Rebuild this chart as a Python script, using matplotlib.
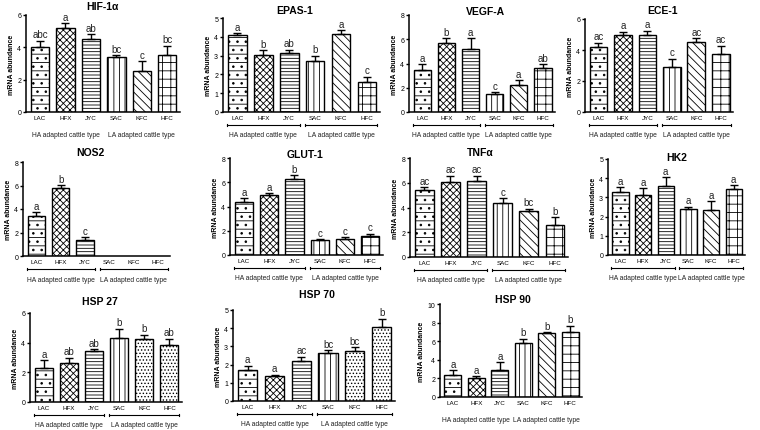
import matplotlib
matplotlib.use("Agg")
import matplotlib.pyplot as plt
import matplotlib.transforms as mtransforms
import numpy as np

plt.rcParams['font.family'] = ['Liberation Sans', 'DejaVu Sans']
plt.rcParams['hatch.linewidth'] = 0.6

cats = ['LAC', 'HFX', 'JYC', 'SAC', 'KFC', 'HFC']
groups = ['HA adapted cattle type', 'LA adapted cattle type']

genes = ['HIF-1α', 'EPAS-1', 'VEGF-A', 'ECE-1', 'NOS2', 'GLUT-1',
         'TNFα', 'HK2', 'HSP 27', 'HSP 70', 'HSP 90']

hif_mean = [4.0, 5.22, 4.5, 3.38, 2.56, 3.55]
hif_err = [0.4, 0.27, 0.3, 0.14, 0.57, 0.55]
hif_sig = ['abc', 'a', 'ab', 'bc', 'c', 'bc']

epas_mean = [4.1, 3.05, 3.14, 2.73, 4.14, 1.6]
epas_err = [0.1, 0.25, 0.18, 0.27, 0.21, 0.28]
epas_sig = ['a', 'b', 'ab', 'b', 'a', 'c']

vegf_mean = [3.47, 5.66, 5.19, 1.45, 2.24, 3.6]
vegf_err = [0.46, 0.41, 0.88, 0.19, 0.38, 0.33]
vegf_sig = ['a', 'b', 'a', 'c', 'a', 'ab']

ece_mean = [4.18, 5.0, 4.97, 2.93, 4.5, 3.75]
ece_err = [0.28, 0.17, 0.28, 0.5, 0.26, 0.53]
ece_sig = ['ac', 'a', 'a', 'c', 'ac', 'ac']

nos_mean = [3.44, 5.75, 1.38, 0, 0, 0]
nos_err = [0.28, 0.28, 0.22, 0, 0, 0]
nos_sig = ['a', 'b', 'c', '', '', '']

glut_mean = [4.33, 4.97, 6.26, 1.24, 1.3, 1.57]
glut_err = [0.33, 0.14, 0.33, 0.08, 0.16, 0.2]
glut_sig = ['a', 'a', 'b', 'c', 'c', 'c']

tnf_mean = [5.42, 6.04, 6.12, 4.38, 3.68, 2.55]
tnf_err = [0.22, 0.54, 0.46, 0.37, 0.21, 0.67]
tnf_sig = ['ac', 'ac', 'ac', 'c', 'bc', 'b']

hk_mean = [3.26, 3.12, 3.57, 2.39, 2.35, 3.45]
hk_err = [0.26, 0.35, 0.47, 0.12, 0.44, 0.19]
hk_sig = ['a', 'a', 'a', 'a', 'a', 'a']

hsp27_mean = [2.29, 2.63, 3.46, 4.34, 4.25, 3.87]
hsp27_err = [0.52, 0.36, 0.11, 0.6, 0.29, 0.4]
hsp27_sig = ['a', 'ab', 'ab', 'b', 'b', 'ab']

hsp70_mean = [1.71, 1.35, 2.22, 2.62, 2.76, 4.09]
hsp70_err = [0.24, 0.1, 0.22, 0.18, 0.18, 0.44]
hsp70_sig = ['a', 'a', 'ac', 'bc', 'bc', 'b']

hsp90_mean = [2.39, 2.04, 2.86, 5.79, 6.86, 7.04]
hsp90_err = [0.46, 0.21, 0.89, 0.46, 0.1, 0.64]
hsp90_sig = ['a', 'a', 'a', 'b', 'b', 'b']

means = [hif_mean, epas_mean, vegf_mean, ece_mean, nos_mean, glut_mean,
         tnf_mean, hk_mean, hsp27_mean, hsp70_mean, hsp90_mean]
errs = [hif_err, epas_err, vegf_err, ece_err, nos_err, glut_err,
        tnf_err, hk_err, hsp27_err, hsp70_err, hsp90_err]
sigs = [hif_sig, epas_sig, vegf_sig, ece_sig, nos_sig, glut_sig,
        tnf_sig, hk_sig, hsp27_sig, hsp70_sig, hsp90_sig]
ymaxs = [6, 5, 8, 6, 8, 8, 8, 5, 6, 5, 10]
ysteps = [2, 1, 2, 2, 2, 2, 2, 1, 2, 1, 2]

# pixel layout: y-axis x, x-axis end, y of ymax, y of zero, title x, title y
W, H = 760, 431
layout = [(26, 180, 16, 113, 102, 7),
          (223, 380, 19, 113, 295, 11),
          (409, 555, 16, 113, 485, 12),
          (585, 733, 20, 113, 662, 11),
          (23, 170, 163, 257, 90, 153),
          (230, 383, 159, 256, 305, 155),
          (410, 568, 159, 258, 480, 153),
          (608, 745, 160, 256, 677, 158),
          (30, 182, 314, 403, 100, 302),
          (233, 395, 311, 402, 317, 295),
          (440, 582, 305, 398, 513, 300)]

hatches = ['--..', 'xxxxx', '-----', '|||', '\\\\\\\\', '++']
hatches_hsp = ['--..', 'xxxxx', '-----', '|||', '.....', '.....']
brackets = [False, True, True, True, True, True, True, True, True, True, False]

fig = plt.figure(figsize=(W / 100, H / 100), dpi=100)

for i, gene in enumerate(genes):
    x0, x1, yt, yb, tx, ty = layout[i]
    ax = fig.add_axes([x0 / W, 1 - yb / H, (x1 - x0) / W, (yb - yt) / H])
    xs = np.arange(len(cats))
    hs = hatches_hsp if gene in ('HSP 27', 'HSP 70') else hatches
    m = np.array(means[i])
    e = np.array(errs[i])
    for j in range(len(cats)):
        if m[j] <= 0:
            continue
        ax.bar(xs[j], m[j], width=0.72, color='white', edgecolor='black',
               linewidth=1.0, hatch=hs[j], zorder=2)
        ax.errorbar(xs[j], m[j], yerr=[[0], [e[j]]], fmt='none',
                    ecolor='black', elinewidth=1.0, capsize=3, capthick=1.0,
                    zorder=3)
        ax.text(xs[j], m[j] + e[j] + ymaxs[i] * 0.015, sigs[i][j],
                ha='center', va='bottom', fontsize=7, color='#222222')
    ax.set_xlim(-0.55, 5.5)
    ax.set_ylim(0, ymaxs[i])
    ax.set_yticks(np.arange(0, ymaxs[i] + 0.01, ysteps[i]))
    ax.tick_params(axis='y', labelsize=5, length=2.5, width=1, pad=1)
    ax.set_xticks(xs)
    ax.set_xticklabels(cats, fontsize=4.5)
    ax.tick_params(axis='x', length=0, pad=2)
    for s in ['top', 'right']:
        ax.spines[s].set_visible(False)
    for s in ['left', 'bottom']:
        ax.spines[s].set_linewidth(1.1)
    ax.set_ylabel('mRNA abundance', fontsize=5, fontweight='bold', labelpad=1.5)

    tr_br = mtransforms.offset_copy(ax.get_xaxis_transform(), fig=fig,
                                    y=-13, units='dots')
    tr_gl = mtransforms.offset_copy(ax.get_xaxis_transform(), fig=fig,
                                    y=-23, units='dots')
    for g, (a, b) in enumerate([(0, 2), (3, 5)]):
        if brackets[i]:
            ax.plot([a - 0.4, b + 0.4], [0, 0], color='black', lw=0.8,
                    transform=tr_br, clip_on=False)
            for xe in (a - 0.4, b + 0.4):
                ax.plot([xe, xe], [-0.012, 0.012], color='black', lw=0.8,
                        transform=tr_br, clip_on=False)
        ax.text((a + b) / 2, 0, groups[g], ha='center', va='center',
                fontsize=4.9, transform=tr_gl, color='#222222')

    fig.text(tx / W, 1 - ty / H, gene, ha='center', va='center',
             fontsize=7.5, fontweight='bold')

fig.savefig('out.png', dpi=100)
